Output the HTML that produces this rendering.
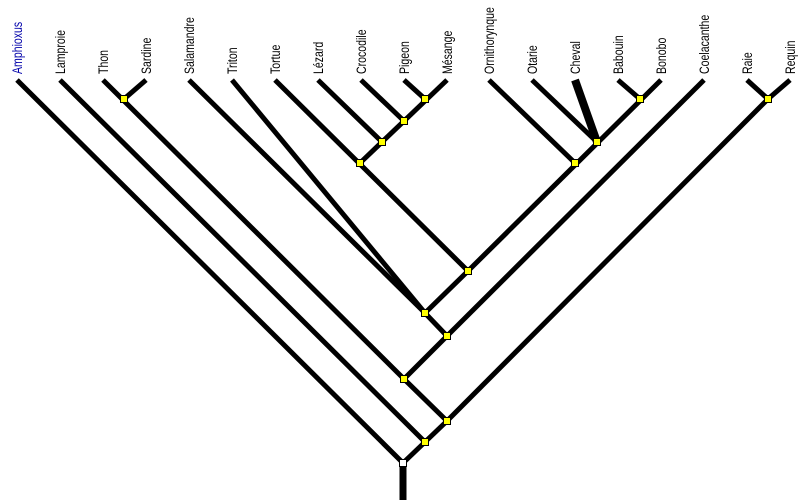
<!DOCTYPE html>
<html><head><meta charset="utf-8"><style>
html,body{margin:0;padding:0;background:#fff;width:808px;height:500px;overflow:hidden}
svg text{font-family:"Liberation Sans",sans-serif;font-size:12px;fill:#000}
</style></head><body>
<svg width="808" height="500" xmlns="http://www.w3.org/2000/svg">
<g stroke="#000" stroke-width="5" stroke-linecap="butt" fill="none">
<line x1="403" y1="463" x2="403" y2="500" stroke-width="7"/>
<line x1="17" y1="80" x2="403" y2="463"/>
<line x1="403" y1="463" x2="425" y2="442"/>
<line x1="60" y1="80" x2="425" y2="442"/>
<line x1="425" y1="442" x2="447" y2="421"/>
<line x1="447" y1="421" x2="768" y2="99"/>
<line x1="747" y1="80" x2="768" y2="99"/>
<line x1="790" y1="80" x2="768" y2="99"/>
<line x1="103" y1="80" x2="404" y2="379"/>
<line x1="146" y1="80" x2="124" y2="99"/>
<line x1="404" y1="379" x2="447" y2="421"/>
<line x1="404" y1="379" x2="447" y2="336"/>
<line x1="447" y1="336" x2="704" y2="80"/>
<line x1="189" y1="80" x2="425" y2="313"/>
<line x1="232" y1="80" x2="425" y2="313"/>
<line x1="425" y1="313" x2="447" y2="336"/>
<line x1="425" y1="313" x2="468" y2="271"/>
<line x1="275" y1="80" x2="468" y2="271"/>
<line x1="318" y1="80" x2="382" y2="142"/>
<line x1="361" y1="80" x2="404" y2="121"/>
<line x1="404" y1="80" x2="425" y2="99"/>
<line x1="447" y1="80" x2="360" y2="163"/>
<line x1="468" y1="271" x2="661" y2="80"/>
<line x1="489" y1="80" x2="575" y2="163"/>
<line x1="532" y1="80" x2="597" y2="142"/>
<line x1="575" y1="80" x2="597" y2="142" stroke-width="8"/>
<line x1="618" y1="80" x2="640" y2="99"/>
</g>
<g fill="#ff0" stroke="#000" stroke-width="1">
<rect x="120.5" y="95.5" width="7" height="7"/>
<rect x="421.5" y="95.5" width="7" height="7"/>
<rect x="400.5" y="117.5" width="7" height="7"/>
<rect x="378.5" y="138.5" width="7" height="7"/>
<rect x="356.5" y="159.5" width="7" height="7"/>
<rect x="571.5" y="159.5" width="7" height="7"/>
<rect x="593.5" y="138.5" width="7" height="7"/>
<rect x="636.5" y="95.5" width="7" height="7"/>
<rect x="764.5" y="95.5" width="7" height="7"/>
<rect x="464.5" y="267.5" width="7" height="7"/>
<rect x="421.5" y="309.5" width="7" height="7"/>
<rect x="443.5" y="332.5" width="7" height="7"/>
<rect x="400.5" y="375.5" width="7" height="7"/>
<rect x="443.5" y="417.5" width="7" height="7"/>
<rect x="421.5" y="438.5" width="7" height="7"/>
<rect x="399.5" y="459.5" width="7" height="7" fill="#fff"/>
</g>
<g>
<text transform="translate(22,74) rotate(-90) scale(0.88,1.12)" style="fill:#00a">Amphioxus</text>
<text transform="translate(65,74) rotate(-90) scale(0.88,1.12)">Lamproie</text>
<text transform="translate(108,74) rotate(-90) scale(0.88,1.12)">Thon</text>
<text transform="translate(151,74) rotate(-90) scale(0.88,1.12)">Sardine</text>
<text transform="translate(194,74) rotate(-90) scale(0.88,1.12)">Salamandre</text>
<text transform="translate(237,74) rotate(-90) scale(0.88,1.12)">Triton</text>
<text transform="translate(280,74) rotate(-90) scale(0.88,1.12)">Tortue</text>
<text transform="translate(323,74) rotate(-90) scale(0.88,1.12)">Lézard</text>
<text transform="translate(366,74) rotate(-90) scale(0.88,1.12)">Crocodile</text>
<text transform="translate(409,74) rotate(-90) scale(0.88,1.12)">Pigeon</text>
<text transform="translate(452,74) rotate(-90) scale(0.88,1.12)">Mésange</text>
<text transform="translate(494,74) rotate(-90) scale(0.88,1.12)">Ornithorynque</text>
<text transform="translate(537,74) rotate(-90) scale(0.88,1.12)">Otarie</text>
<text transform="translate(580,74) rotate(-90) scale(0.88,1.12)">Cheval</text>
<text transform="translate(623,74) rotate(-90) scale(0.88,1.12)">Babouin</text>
<text transform="translate(666,74) rotate(-90) scale(0.88,1.12)">Bonobo</text>
<text transform="translate(709,74) rotate(-90) scale(0.88,1.12)">Coelacanthe</text>
<text transform="translate(752,74) rotate(-90) scale(0.88,1.12)">Raie</text>
<text transform="translate(795,74) rotate(-90) scale(0.88,1.12)">Requin</text>
</g>
</svg>
</body></html>
